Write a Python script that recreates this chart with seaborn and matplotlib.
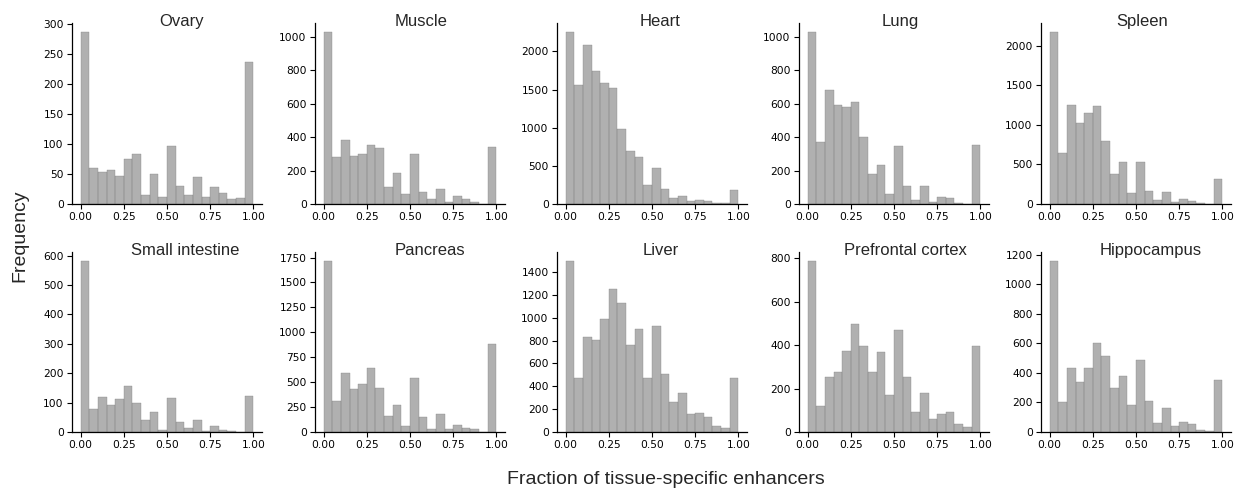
import numpy as np
import pandas as pd
import matplotlib
matplotlib.use("Agg")
import matplotlib.pyplot as plt
from matplotlib.ticker import MultipleLocator, FormatStrFormatter
import seaborn as sns

sns.set_style("ticks")
# tick labels in DejaVu Sans, titles and axis labels in a Helvetica-like face
plt.rcParams["font.family"] = ["DejaVu Sans"]
LABEL_FONT = ["Liberation Sans", "DejaVu Sans"]

# Enhancer counts per 0.05-wide bin of the tissue-specific fraction (0 -> 1)
tissues = ["Ovary", "Muscle", "Heart", "Lung", "Spleen",
           "Small intestine", "Pancreas", "Liver", "Prefrontal cortex", "Hippocampus"]

ovary = [287, 60, 53, 57, 47, 75, 83, 15, 50, 11, 97, 30, 15, 45, 11, 28, 18, 8, 10, 237]
muscle = [1030, 282, 383, 287, 298, 352, 335, 102, 185, 60, 298, 72, 30, 88, 12, 48, 30, 12, 2, 340]
heart = [2260, 1560, 2090, 1740, 1590, 1520, 980, 690, 610, 245, 470, 195, 75, 100, 35, 50, 35, 10, 10, 180]
lung = [1030, 370, 683, 593, 580, 610, 400, 180, 233, 60, 347, 107, 23, 107, 12, 40, 35, 5, 0, 353]
spleen = [2180, 650, 1250, 1030, 1150, 1240, 800, 380, 530, 140, 530, 165, 55, 150, 25, 65, 40, 15, 0, 315]
small_intestine = [583, 78, 119, 92, 112, 156, 98, 40, 68, 7, 115, 33, 13, 40, 3, 20, 7, 3, 0, 122]
pancreas = [1720, 310, 590, 430, 480, 640, 440, 160, 270, 60, 540, 150, 30, 180, 30, 70, 40, 30, 0, 880]
liver = [1500, 470, 835, 805, 985, 1255, 1130, 765, 905, 470, 930, 510, 260, 340, 155, 165, 130, 50, 35, 470]
prefrontal_cortex = [790, 120, 252, 275, 372, 500, 395, 275, 368, 170, 468, 252, 92, 178, 58, 82, 92, 35, 22, 395]
hippocampus = [1160, 205, 435, 340, 435, 600, 515, 295, 380, 185, 485, 210, 60, 165, 40, 70, 55, 15, 5, 350]

counts = [ovary, muscle, heart, lung, spleen,
          small_intestine, pancreas, liver, prefrontal_cortex, hippocampus]

bin_width = 0.05
bin_centers = np.arange(20) * bin_width + bin_width / 2

# y tick spacing for each panel
y_steps = [50, 200, 500, 200, 500, 100, 250, 200, 200, 200]
# horizontal title anchor (axes fraction) for each panel
title_x = [0.576, 0.558, 0.545, 0.534, 0.531, 0.594, 0.605, 0.545, 0.558, 0.576]

W, H = 1241, 493
fig = plt.figure(figsize=(W / 100, H / 100), dpi=100)

col_left = [72, 315, 557, 799, 1041]
ax_w = 190
row_top = [23, 252]
row_bottom = [204, 432]

for i, (name, vals) in enumerate(zip(tissues, counts)):
    r, c = divmod(i, 5)
    ax = fig.add_axes([col_left[c] / W, 1 - row_bottom[r] / H,
                       ax_w / W, (row_bottom[r] - row_top[r]) / H])
    df = pd.DataFrame({"fraction": bin_centers, "n": vals})
    sns.histplot(data=df, x="fraction", weights="n",
                 binwidth=bin_width, binrange=(0.0, 1.0), ax=ax,
                 color="gray", alpha=0.62, edgecolor="gray", linewidth=0.25)
    ax.set_xlabel("")
    ax.set_ylabel("")
    ax.set_xticks([0, 0.25, 0.5, 0.75, 1.0])
    ax.xaxis.set_major_formatter(FormatStrFormatter("%.2f"))
    ax.yaxis.set_major_locator(MultipleLocator(y_steps[i]))
    ax.tick_params(axis="both", labelsize=7.7, length=3.5, width=0.8, pad=2.5,
                   colors="black")
    for s in ("left", "bottom"):
        ax.spines[s].set_linewidth(0.9)
        ax.spines[s].set_color("black")
    sns.despine(ax=ax)
    ax.text(title_x[i], 0.985, name, transform=ax.transAxes,
            ha="center", va="baseline", fontsize=12, family=LABEL_FONT)

fig.text(20 / W, 1 - 236 / H, "Frequency", rotation=90,
         ha="center", va="center", fontsize=14, family=LABEL_FONT)
fig.text(666 / W, 1 - 480 / H, "Fraction of tissue-specific enhancers",
         ha="center", va="center", fontsize=14, family=LABEL_FONT)

fig.savefig("out.png", dpi=100)
